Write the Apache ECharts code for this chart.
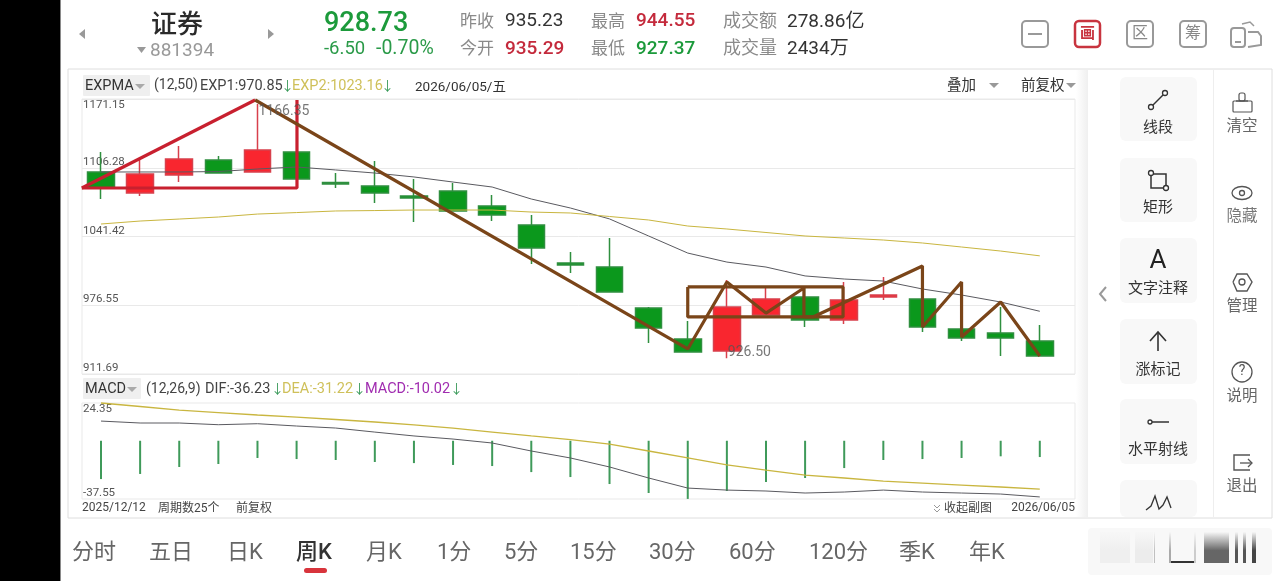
<!DOCTYPE html>
<html><head><meta charset="utf-8">
<style>html,body{margin:0;padding:0;background:#fff}#c{width:1280px;height:581px}</style>
<script src="https://cdn.jsdelivr.net/npm/echarts@6/dist/echarts.min.js"></script>
</head><body><div id="c"></div>
<script>
const periods=[0,1,2,3,4,5,6,7,8,9,10,11,12,13,14,15,16,17,18,19,20,21,22,23,24];
const opens =[1102.3,1082.4,1099.4,1113.6,1102.3,1121.1,1092.4,1089.0,1079.6,1084.3,1070.2,1052.3,1016.4,1012.6,974.0,944.7,933.4,967.3,984.3,962.6,984.3,982.4,954.1,950.4,942.8];
const closes=[1087.2,1100.4,1114.5,1101.3,1123.0,1095.7,1090.9,1082.4,1077.8,1065.5,1061.7,1030.6,1014.5,989.0,955.1,932.4,974.9,982.4,962.6,981.5,986.2,956.0,945.6,945.6,928.73];
const lows  =[1076.8,1079.6,1092.8,1101.3,1102.3,1095.7,1087.2,1073.0,1055.1,1065.5,1056.0,1015.5,1007.0,989.0,941.0,932.4,926.5,967.3,956.0,958.9,981.5,951.3,942.8,928.7,928.73];
const highs =[1121.1,1113.6,1126.8,1117.4,1166.35,1121.1,1101.3,1112.6,1095.7,1091.9,1080.6,1061.7,1026.8,1040.0,974.9,961.7,1000.4,993.8,993.8,998.5,1003.2,982.4,954.1,974.9,957.9];
const exp1=[1102.3,1102.3,1102.3,1102.7,1105.1,1107.0,1104.2,1101.3,1097.6,1092.8,1088.1,1076.8,1068.3,1058.0,1041.9,1025.8,1017.3,1012.6,1004.2,1001.3,999.4,991.9,986.2,979.6,970.85];
const exp2=[1053.2,1056.0,1057.9,1059.8,1062.6,1064.0,1065.5,1065.9,1066.4,1066.4,1066.4,1064.5,1063.6,1060.3,1057.0,1051.3,1048.5,1045.2,1041.9,1040.0,1038.1,1035.3,1031.5,1027.7,1023.16];
const macd=[-24.7,-21.4,-16.9,-15.0,-11.1,-11.8,-12.4,-13.7,-14.4,-15.6,-16.3,-20.2,-23.4,-27.9,-33.7,-37.5,-32.4,-26.6,-24.0,-17.6,-12.4,-11.8,-11.1,-10.02,-10.5];
const dif=[12.7,11.45,11.45,10.35,11.0,9.5,8.2,5.6,3.1,1.1,-1.45,-6.6,-11.1,-16.9,-24.0,-30.5,-31.8,-32.4,-33.7,-33.05,-31.8,-33.05,-33.7,-34.35,-36.23];
const dea=[24.35,22.1,19.8,18.2,16.6,15.3,13.7,12.1,10.2,8.2,5.6,3.1,0.8,-2.1,-6.6,-11.1,-15.6,-18.9,-22.1,-24.0,-26.0,-27.3,-28.6,-29.8,-31.22];
const priceTicks=[911.69,976.55,1041.42,1106.28,1171.15];
const macdTicks=[-37.55,24.35];
const dateLabels=['2025/12/12','2026/06/05'];
const redRise=[[-0.49,1087.2],[3.94,1170.2]];
const redBox=[[5.01,1170.2],[5.01,1087.2],[-0.49,1087.2]];
const brownZig=[[3.94,1170.2],[15.0,935.3],[16.0,998.5],[17.0,969.2],[17.97,992.8],[17.97,965.5],[18.2,965.5],[21.0,1013.6],[21.0,956.0],[22.0,998.5],[22.0,946.6],[23.0,979.6],[24.0,928.7]];
const brownBox=[[15.0,993.8],[18.97,993.8],[18.97,965.5],[15.0,965.5],[15.0,993.8]];
const extremes=[[4,1166.35],[16,926.5]];

const FONT='Roboto,"Noto Sans CJK SC",sans-serif';
const GREEN='#0b981c',RED='#f9262f',BROWN='#7a4519';
const g=[];
function T(x,y,text,size,fill,align,weight){g.push({type:'text',silent:true,z:5,style:{x,y:y+2.5,text,fill:fill||'#333',align:align||'left',verticalAlign:'middle',font:(weight||400)+' '+size+'px '+FONT}});}
function R(x,y,w,h,fill,r,stroke,lw,z){g.push({type:'rect',silent:true,z:z||1,shape:{x,y,width:w,height:h,r:r||0},style:{fill:fill||'none',stroke:stroke||'none',lineWidth:lw||1}});}
function P(pts,stroke,lw,fill){g.push({type:'polyline',silent:true,z:6,shape:{points:pts},style:{stroke:stroke||'none',lineWidth:lw||1,fill:fill||'none'}});}
function C(x,y,r,stroke,lw,fill){g.push({type:'circle',silent:true,z:6,shape:{cx:x,cy:y,r},style:{stroke,lineWidth:lw||1,fill:fill||'#fff'}});}
function V(x,w,color){g.push({type:'rect',silent:true,z:2,shape:{x,y:532,width:w,height:31},style:{fill:{type:'linear',x:0,y:0,x2:0,y2:1,colorStops:[{offset:0,color:'#f7f7f7'},{offset:0.6,color:color},{offset:1,color:color}]}}});}

// page frame
R(0,0,60,581,'#000');R(60,0,1,581,'#8a8a8a');
R(68,69,1204,449,'none',0,'#dedede',1);
// side panel
g.push({type:'rect',silent:true,z:2,shape:{x:1076,y:70,width:12,height:447},style:{fill:{type:'linear',x:0,y:0,x2:1,y2:0,colorStops:[{offset:0,color:'#ffffff'},{offset:1,color:'#efefef'}]}}});
R(1213,70,1,447,'#eeeeee',0,null,1,2);
[[77,64],[158,64],[238,65],[319,65],[399,65],[480,37]].forEach(b=>R(1120,b[0],77,b[1],'#f8f8f8',6,null,1,2));

// header
P([[79,34],[85,29],[85,39],[79,34]],null,1,'#999');P([[274,34],[268,29],[268,39],[274,34]],null,1,'#999');
T(177,24,'证券',26,'#2a2a2a','center',500);
P([[137,47],[146,47],[141.5,53],[137,47]],null,1,'#999');
T(150,49,'881394',19,'#999');
T(324,22,'928.73',27,'#1c9a3b','left',500);
T(324,47,'-6.50',18.5,'#2a9a48');T(376,47,'-0.70%',19.5,'#2a9a48');
T(460,20,'昨收',17,'#8a8a8a');T(505,19,'935.23',19,'#333');
T(460,47,'今开',17,'#8a8a8a');T(505,47,'935.29',19,'#c42a3c','left',500);
T(591,20,'最高',17,'#8a8a8a');T(636,19,'944.55',19,'#c42a3c','left',500);
T(591,47,'最低',17,'#8a8a8a');T(636,47,'927.37',19,'#1c9a3b','left',500);
T(723,20,'成交额',18,'#8a8a8a');T(787,20,'278.86亿',19,'#333');
T(723,47,'成交量',18,'#8a8a8a');T(787,47,'2434万',19,'#333');

// top icons
R(1022,21,26,26,'none',4,'#999',2,5);P([[1028,34],[1042,34]],'#999',2);
R(1075,21,25,26,'none',4,'#c8343f',2.5,5);T(1087.5,31.5,'画',15,'#c8343f','center',700);
R(1127,21,26,26,'none',4,'#999',2,5);T(1140,31.5,'区',16,'#888','center');
R(1180,21,26,26,'none',4,'#999',2,5);T(1193,31.5,'筹',16,'#888','center');
R(1231,28,14,19,'none',3,'#999',2,5);P([[1235,42],[1241,42]],'#999',2);
P([[1248,32],[1258,32],[1261,36],[1261,45],[1248,47]],'#999',2);P([[1242,24],[1250,22],[1254,26]],'#999',1.5);

// pane legends
R(83,75,67,21,'#efefef',1,null,1,2);
T(85,84,'EXPMA',14.5,'#333');P([[135,84],[145,84],[140,89],[135,84]],null,1,'#aaa');
T(154,83,'(12,50)',14,'#444');T(200,84,'EXP1:970.85',14.5,'#444');T(281,84,'↓',13,'#3a9a5a');
T(292,84,'EXP2:1023.16',14.5,'#cfc05a');T(381,84,'↓',13,'#3a9a5a');
T(415,85,'2026/06/05/五',13.5,'#333');
T(947,84,'叠加',14.5,'#333');P([[989,83],[999,83],[994,88],[989,83]],null,1,'#999');
T(1021,84,'前复权',14.5,'#333');P([[1066,83],[1076,83],[1071,88],[1066,83]],null,1,'#999');
R(83,378,58,21,'#efefef',1,null,1,2);
T(85,387,'MACD',14.5,'#333');P([[127,387],[137,387],[132,392],[127,387]],null,1,'#aaa');
T(146,387,'(12,26,9)',14,'#444');T(205,387,'DIF:-36.23',14.5,'#444');T(271,387,'↓',13,'#3a9a5a');
T(282,387,'DEA:-31.22',14.5,'#cfc05a');T(353,387,'↓',13,'#3a9a5a');
T(365,387,'MACD:-10.02',14.5,'#a02cb0');T(450,387,'↓',13,'#3a9a5a');
T(158,506,'周期数25个',12,'#444');T(236,506,'前复权',12,'#444');
T(944,506,'收起副图',12,'#444');P([[934,505],[937,508],[940,505]],'#999',1);P([[934,509],[937,512],[940,509]],'#999',1);

// drawing tools
C(1151,107,2.5,'#333',1.3);C(1165,93,2.5,'#333',1.3);P([[1153,105],[1163,95]],'#333',1.4);T(1158,126,'线段',15,'#333','center');
P([[1151,174],[1166,174],[1166,188],[1151,188],[1151,174]],'#333',1.5);C(1151,173,2.5,'#333',1.3);C(1166,188,2.5,'#333',1.3);T(1158,206,'矩形',15,'#333','center');
T(1158,259,'A',26,'#222','center');T(1158,287,'文字注释',15,'#333','center');
P([[1158,351],[1158,332]],'#333',1.6);P([[1150,341],[1158,332],[1166,341]],'#333',1.6);T(1158,368,'涨标记',15,'#333','center');
C(1150,422,2,'#333',1.3);P([[1152,422],[1169,422]],'#333',1.5);T(1158,448,'水平射线',15,'#333','center');
P([[1146,510],[1151,506],[1155,496],[1159,509],[1163,505],[1167,497],[1171,508]],'#333',1.3);
P([[1106,287],[1100,294],[1106,301]],'#999',2);
// right column
P([[1236,101],[1248,101]],'#555',1.3);R(1239,93,6,8,'none',2,'#555',1.2,6);R(1233,101,19,11,'none',1,'#555',1.2,6);T(1242,125,'清空',15.5,'#666','center');
g.push({type:'ellipse',silent:true,z:6,shape:{cx:1242,cy:193,rx:10,ry:6.5},style:{stroke:'#555',lineWidth:1.3,fill:'none'}});C(1242,193,2.5,'#555',1.3);T(1242,215,'隐藏',15.5,'#777','center');
P([[1233,282],[1237,274],[1247,274],[1252,282],[1247,291],[1237,291],[1233,282]],'#555',1.4);C(1242,282,3,'#555',1.3);T(1242,305,'管理',15.5,'#666','center');
C(1242,372,10,'#555',1.3,'none');T(1242,369,'?',14,'#555','center');T(1242,395,'说明',15.5,'#666','center');
P([[1250,455],[1234,455],[1234,470],[1250,470]],'#555',1.4);P([[1240,463],[1251,463]],'#555',1.3);P([[1248,459],[1252,463],[1248,467]],'#555',1.3);T(1242,485,'退出',15.5,'#666','center');

// bottom tabs
[['分时',72],['五日',149],['日K',227],['月K',366],['1分',437],['5分',504],['15分',570],['30分',649],['60分',729],['120分',809],['季K',899],['年K',969]]
 .forEach(d=>T(d[1],550.5,d[0],22,'#666'));
T(296,550.5,'周K',22,'#333','left',500);
R(304,568,23,5,'#d8343c',2.5);
// blurred corner mark
R(1088,528,184,47,'#f8f8f8',4);
[[1100,30,'#efefef'],[1135,18,'#ececec'],[1154,1,'#c0c0c0'],[1169,2,'#aaaaaa'],[1194,2,'#cccccc'],[1204,25,'#666666'],[1235,3,'#555555'],[1243,3,'#555555'],[1252,4,'#444444']]
 .forEach(b=>V(b[0],b[1],b[2]));
R(1169,561,27,2,'#333');

const mainSeriesData=periods.map((p,i)=>[p,opens[i],closes[i],lows[i],highs[i]]);
const xy=(a)=>periods.map((p,i)=>[p,a[i]]);
const thin=(data,color,width)=>({type:'line',data,xAxisIndex:0,yAxisIndex:0,showSymbol:false,silent:true,clip:false,z:6,lineStyle:{color,width},animation:false});
const option={
 animation:false,backgroundColor:'#fff',textStyle:{fontFamily:FONT},
 graphic:{elements:g},
 grid:[
  {left:82,width:993,top:99,height:275,show:true,borderColor:'#e9e9e9',borderWidth:1,backgroundColor:'transparent'},
  {left:82,width:993,top:403,height:96,show:true,borderColor:'#e9e9e9',borderWidth:1,backgroundColor:'transparent'}
 ],
 xAxis:[
  {type:'value',gridIndex:0,min:-0.486,max:24.9,axisLine:{show:false},axisTick:{show:false},axisLabel:{show:false},splitLine:{show:false}},
  {type:'value',gridIndex:1,min:-0.486,max:24.9,axisLine:{show:false},axisTick:{show:false},splitLine:{show:false},
   axisLabel:{show:true,customValues:[-0.486,24.9],margin:3,fontSize:12,color:'#444',alignMinLabel:'left',alignMaxLabel:'right',formatter:v=>v<0?dateLabels[0]:dateLabels[1]}}
 ],
 yAxis:[
  {type:'value',gridIndex:0,min:priceTicks[0],max:priceTicks[4],axisLine:{show:false},
   axisTick:{show:false,customValues:priceTicks},
   splitLine:{show:true,lineStyle:{color:'#e9e9e9',width:1}},
   axisLabel:{inside:true,margin:1,customValues:priceTicks,fontSize:11.5,color:'#555',verticalAlign:'bottom',verticalAlignMaxLabel:'top',formatter:v=>v.toFixed(2)}},
  {type:'value',gridIndex:1,min:macdTicks[0],max:macdTicks[1],axisLine:{show:false},
   axisTick:{show:false,customValues:macdTicks},splitLine:{show:false},
   axisLabel:{inside:true,margin:1,customValues:macdTicks,fontSize:11.5,color:'#555',verticalAlign:'bottom',verticalAlignMaxLabel:'top',formatter:v=>v.toFixed(2)}}
 ],
 series:[
  {type:'candlestick',xAxisIndex:0,yAxisIndex:0,barWidth:27,data:mainSeriesData,z:3,silent:true,
   itemStyle:{color:RED,color0:GREEN,borderColor:'#d8404c',borderColor0:'#2f8f3f',borderWidth:1.5}},
  thin(xy(exp1),'#5a5a60',1),
  thin(xy(exp2),'#c9b640',1),
  thin(redRise,'#c8202f',3.2),
  thin(redBox,'#c8202f',3.2),
  thin(brownBox,BROWN,3.2),
  thin(brownZig,BROWN,3.2),
  {type:'scatter',xAxisIndex:0,yAxisIndex:0,symbolSize:0,silent:true,z:7,data:extremes,
   label:{show:true,position:'right',distance:1,fontSize:14,color:'#555',formatter:p=>p.value[1].toFixed(2)},
   labelLayout:p=>({dy:p.dataIndex===0?7:-6})},
  {type:'bar',xAxisIndex:1,yAxisIndex:1,barWidth:2,data:xy(macd),silent:true,z:3,itemStyle:{color:'#3f9a5a'}},
  {type:'line',xAxisIndex:1,yAxisIndex:1,data:xy(dif),showSymbol:false,silent:true,clip:false,z:5,lineStyle:{color:'#5a5a60',width:1}},
  {type:'line',xAxisIndex:1,yAxisIndex:1,data:xy(dea),showSymbol:false,silent:true,clip:false,z:5,lineStyle:{color:'#c9b640',width:1.3}}
 ]
};
echarts.init(document.getElementById('c'),null,{renderer:'canvas'}).setOption(option);
</script></body></html>
